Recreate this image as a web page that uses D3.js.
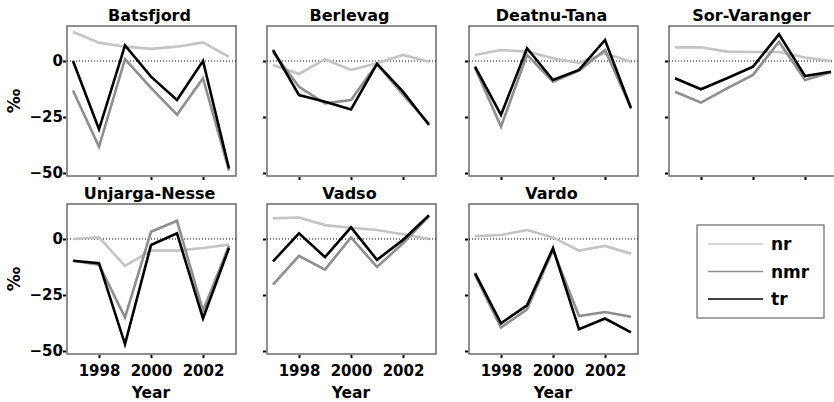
<!DOCTYPE html>
<html><head><meta charset="utf-8">
<script src="https://cdn.jsdelivr.net/npm/d3@7"></script>
<style>body{margin:0;background:#fff}svg{display:block}text{font-family:"DejaVu Sans",sans-serif;font-weight:bold;fill:#000}</style>
</head><body>
<script>
const years = [1997, 1998, 1999, 2000, 2001, 2002, 2003];
const regions = ["Batsfjord", "Berlevag", "Deatnu-Tana", "Sor-Varanger", "Unjarga-Nesse", "Vadso", "Vardo"];
const seriesNames = ["nr", "nmr", "tr"];
const seriesColors = ["#c4c4c4", "#8e8e8e", "#000000"];
const xTicks = [1998, 2000, 2002];
const yTicks = [0, -25, -50];

const nr = {
  "Batsfjord":     [13, 8.2, 6.4, 5.4, 6.4, 8.3, 1.8],
  "Berlevag":      [-1.8, -5.8, 0.8, -4, -1, 2.7, -0.3],
  "Deatnu-Tana":   [2.7, 4.9, 4.2, 1.2, -0.9, 3.4, -0.3],
  "Sor-Varanger":  [6.1, 6.1, 4.2, 4, 4, 1.6, 0],
  "Unjarga-Nesse": [0, 0.7, -12, -5.2, -5.2, -4, -2.5],
  "Vadso":         [9.2, 9.6, 6.2, 5, 4, 2.1, 0],
  "Vardo":         [1.3, 1.8, 4, 0.7, -5.2, -3.1, -6.6]
};
const nmr = {
  "Batsfjord":     [-13.2, -38.3, 0.8, -12, -24, -7.7, -49],
  "Berlevag":      [4, -11.5, -18.9, -17.4, -1.3, -15, -28],
  "Deatnu-Tana":   [-3, -29.3, 2.7, -9.2, -4.3, 4.9, -21],
  "Sor-Varanger":  [-13.7, -18.6, -12.2, -6.2, 8.6, -8.5, -5],
  "Unjarga-Nesse": [-9.7, -11.5, -35, 3.2, 8.1, -32, -3],
  "Vadso":         [-20.4, -7.5, -13.7, 0.7, -12.5, -1.9, 10.2],
  "Vardo":         [-16, -39.5, -31.4, -4.9, -34.4, -32.6, -34.7]
};
const tr = {
  "Batsfjord":     [0, -30.5, 7, -7, -17.4, 0, -48],
  "Berlevag":      [4.9, -15.2, -18.2, -21.6, -1.3, -13.7, -28.6],
  "Deatnu-Tana":   [-2.5, -24.1, 5.7, -8.5, -4, 9.4, -21.1],
  "Sor-Varanger":  [-7.7, -12.6, -7.7, -2.5, 11.9, -6.7, -4.8],
  "Unjarga-Nesse": [-9.7, -10.8, -46.9, -2.7, 2.5, -35.5, -4],
  "Vadso":         [-10, 2.5, -8.1, 5.2, -9.3, -0.4, 10.6],
  "Vardo":         [-15.2, -37.6, -29.6, -4.1, -40.3, -35.5, -41.7]
};
const seriesData = [nr, nmr, tr];

const W = 834, H = 402;
const svg = d3.select("body").append("svg").attr("width", W).attr("height", H);

const colX = [67, 267, 469, 669];
const rowY = [26, 204];
const pw = 169, ph = 150;

regions.forEach((name, i) => {
  const col = i % 4, row = Math.floor(i / 4);
  const x0 = colX[col], y0 = rowY[row];
  const x = d3.scaleLinear().domain([1997, 2003]).range([x0 + 6, x0 + 162]);
  const y = d3.scaleLinear().domain([-50, 0]).range([y0 + 147, y0 + 35]);
  const g = svg.append("g");

  g.append("rect").attr("x", x0).attr("y", y0).attr("width", pw).attr("height", ph)
    .attr("fill", "none").attr("stroke", "#6a6a6a").attr("stroke-width", 1.5);

  g.append("line").attr("x1", x0).attr("x2", x0 + pw).attr("y1", y(0)).attr("y2", y(0))
    .attr("stroke", "#000").attr("stroke-width", 1).attr("stroke-dasharray", "1,2");

  const ya = d3.axisLeft(y).tickValues(yTicks).tickSize(3)
    .tickFormat(col === 0 ? d3.format("d") : () => "");
  const yg = g.append("g").attr("transform", `translate(${x0 - 1},0)`).call(ya);
  yg.select(".domain").remove();
  yg.selectAll(".tick line").attr("stroke", "#000").attr("stroke-width", 2);
  yg.selectAll(".tick text").attr("font-size", 15).attr("x", -3);

  const showX = row === 1;
  const xa = d3.axisBottom(x).tickValues(xTicks).tickSize(3)
    .tickFormat(showX ? d3.format("d") : () => "");
  const xg = g.append("g").attr("transform", `translate(0,${y0 + ph + 1})`).call(xa);
  xg.select(".domain").remove();
  xg.selectAll(".tick line").attr("stroke", "#000").attr("stroke-width", 2);
  xg.selectAll(".tick text").attr("font-size", 15).attr("dy", "1.0em");

  const line = d3.line().x((d, k) => x(years[k])).y(d => y(d));
  seriesData.forEach((s, si) => {
    g.append("path").datum(s[name]).attr("d", line).attr("fill", "none")
      .attr("stroke", seriesColors[si]).attr("stroke-width", 2.6)
      .attr("stroke-linejoin", "miter");
  });

  g.append("text").attr("x", x0 + pw / 2 - 2).attr("y", y0 - 5).attr("text-anchor", "middle")
    .attr("font-size", 16).text(name);

  if (showX) {
    g.append("text").attr("x", x(2000)).attr("y", y0 + ph + 44).attr("text-anchor", "middle")
      .attr("font-size", 15.5).text("Year");
  }
  if (col === 0) {
    g.append("text").attr("transform", `translate(20,${y0 + 75}) rotate(-90)`)
      .attr("text-anchor", "middle").attr("font-size", 17).text("‰");
  }
});

const lg = svg.append("g");
lg.append("rect").attr("x", 697).attr("y", 225).attr("width", 127).attr("height", 93)
  .attr("fill", "#fff").attr("stroke", "#6a6a6a").attr("stroke-width", 1.2);
seriesNames.forEach((n, i) => {
  const yy = 244 + i * 27.5;
  lg.append("line").attr("x1", 708).attr("x2", 763).attr("y1", yy).attr("y2", yy)
    .attr("stroke", seriesColors[i]).attr("stroke-width", 1.5);
  lg.append("text").attr("x", 771).attr("y", yy + 6).attr("font-size", 17).text(n);
});
</script>
</body></html>
